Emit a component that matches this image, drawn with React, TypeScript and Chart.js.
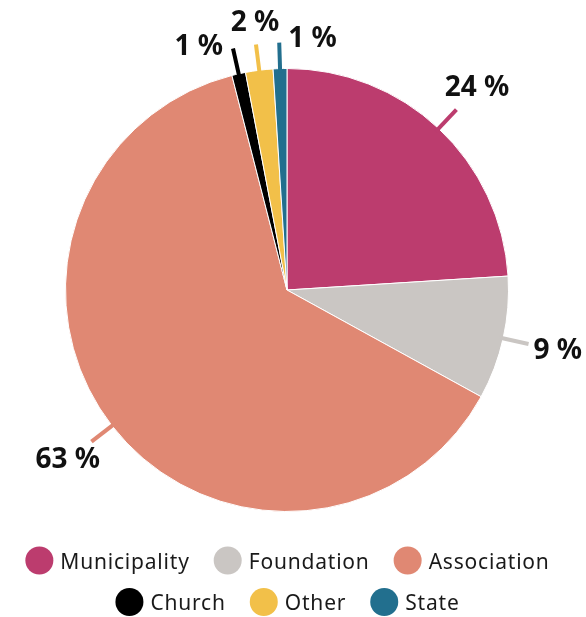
import React, { useEffect, useRef } from "react";
import { Chart, registerables } from "chart.js";

Chart.register(...registerables);

const categories = ["Municipality", "Foundation", "Association", "Church", "Other", "State"];
const values = [24, 9, 63, 1, 2, 1];
const valueLabels = ["24 %", "9 %", "63 %", "1 %", "2 %", "1 %"];
const colors = ["#BC3C6E", "#CAC6C3", "#E08873", "#000000", "#F2C049", "#226F8E"];

const labelPlugin = {
  id: "leaderLabels",
  afterDatasetsDraw(chart: any) {
    const ctx = chart.ctx;
    const meta = chart.getDatasetMeta(0);
    const smallIdx: number[] = [];
    values.forEach((v, i) => { if (v < 3) smallIdx.push(i); });
    meta.data.forEach((arc: any, i: number) => {
      const { x, y, startAngle, endAngle, outerRadius } = arc.getProps(["x", "y", "startAngle", "endAngle", "outerRadius"], true);
      const mid = (startAngle + endAngle) / 2;
      const dx = Math.cos(mid);
      const dy = Math.sin(mid);
      const r0 = outerRadius - 4;
      const r1 = outerRadius + 26;
      const sx = x + dx * r0, sy = y + dy * r0;
      const ex = x + dx * r1, ey = y + dy * r1;
      ctx.save();
      ctx.strokeStyle = colors[i];
      ctx.lineWidth = 4;
      ctx.beginPath();
      ctx.moveTo(sx, sy);
      ctx.lineTo(ex, ey);
      ctx.stroke();
      ctx.fillStyle = "#111";
      ctx.font = "bold 28px 'Noto Sans', sans-serif";
      ctx.textBaseline = "middle";
      let tx: number, ty: number;
      if (values[i] < 3) {
        const pos = smallIdx.indexOf(i);
        if (pos === 0) { ctx.textAlign = "right"; tx = ex - 10; ty = ey - 1; }
        else if (pos === smallIdx.length - 1) { ctx.textAlign = "left"; tx = ex + 9; ty = ey - 4; }
        else { ctx.textAlign = "center"; tx = ex - 1; ty = ey - 21; }
      } else {
        ctx.textAlign = "center";
        const rt = outerRadius + 56;
        tx = x + dx * rt;
        ty = y + dy * rt;
      }
      ctx.fillText(valueLabels[i], tx, ty);
      ctx.restore();
    });
  },
  afterDraw(chart: any) {
    const ctx = chart.ctx;
    const area = chart.chartArea;
    const cx = (area.left + area.right) / 2;
    const r = 14;
    const gapText = 7;
    const gapItem = 25;
    const maxW = 560;
    ctx.save();
    ctx.font = "21px 'Noto Sans', sans-serif";
    (ctx as any).letterSpacing = "0.8px";
    const widths = categories.map((c) => 2 * r + gapText + ctx.measureText(c).width - 1);
    const rows: number[][] = [[]];
    let rowW = 0;
    widths.forEach((w, i) => {
      const cur = rows[rows.length - 1];
      const add = cur.length ? gapItem + w : w;
      if (cur.length && rowW + add > maxW) { rows.push([i]); rowW = w; }
      else { cur.push(i); rowW += add; }
    });
    rows.forEach((row, ri) => {
      const total = row.reduce((s, i, k) => s + widths[i] + (k ? gapItem : 0), 0);
      let x0 = cx - total / 2;
      const cy = area.bottom + 48.5 + ri * 41.5;
      row.forEach((i) => {
        ctx.fillStyle = colors[i];
        ctx.beginPath();
        ctx.arc(x0 + r, cy, r, 0, Math.PI * 2);
        ctx.fill();
        ctx.fillStyle = "#1a1a1a";
        ctx.textAlign = "left";
        ctx.textBaseline = "alphabetic";
        ctx.fillText(categories[i], x0 + 2 * r + gapText, cy + 8);
        x0 += widths[i] + gapItem;
      });
    });
    ctx.restore();
  },
};

export default function App() {
  const ref = useRef<HTMLCanvasElement>(null);
  useEffect(() => {
    document.body.style.margin = "0";
    const chart = new Chart(ref.current!, {
      type: "pie",
      data: {
        labels: categories,
        datasets: [
          {
            data: values,
            backgroundColor: colors,
            borderColor: "#ffffff",
            borderWidth: 1,
          },
        ],
      },
      options: {
        responsive: false,
        animation: false,
        layout: { padding: { top: 68, left: 0, right: 12, bottom: 105 } },
        plugins: {
          tooltip: { enabled: false },
          legend: { display: false },
        },
      },
      plugins: [labelPlugin],
    });
    return () => chart.destroy();
  }, []);
  return <canvas ref={ref} width={586} height={617} style={{ display: "block" }} />;
}
